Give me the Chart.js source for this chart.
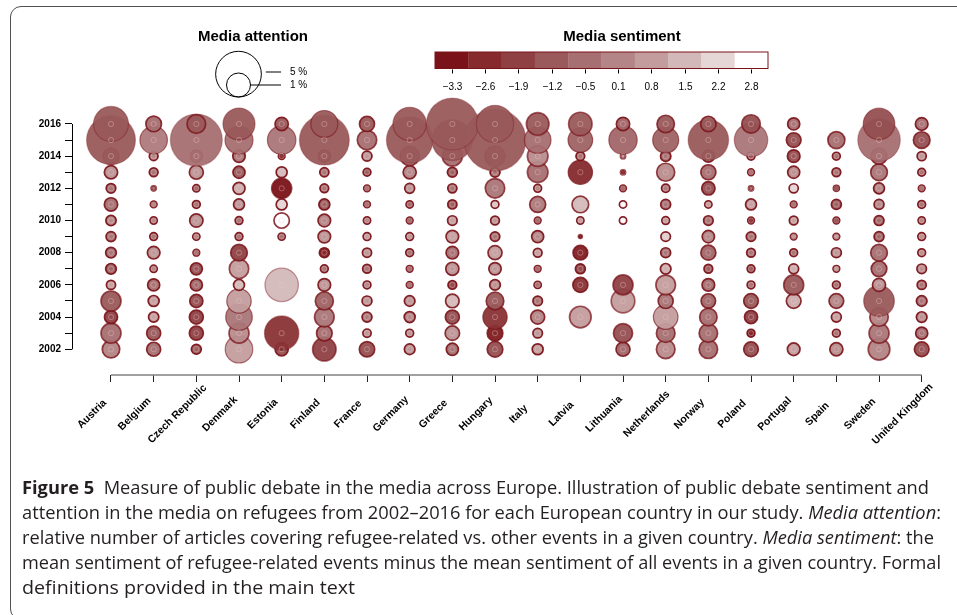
<!DOCTYPE html>
<html>
<head>
<meta charset="utf-8">
<script src="https://cdn.jsdelivr.net/npm/chart.js@4.4.1/dist/chart.umd.min.js"></script>
<style>
  html, body { margin: 0; padding: 0; background: #fff; }
  body { width: 957px; height: 615px; position: relative; overflow: hidden; }
  #frame { position: absolute; left: 10px; top: 6px; width: 990px; height: 614px; border: 1.4px solid #505050; border-radius: 11px; box-sizing: border-box; }
  #chart { position: absolute; left: 0; top: 0; }
  #caption { position: absolute; left: 22px; top: 474px; font-family: "Open Sans", "Noto Sans", sans-serif; font-size: 18.5px; line-height: 25px; color: #231f20; }
  #caption .ln { display: block; white-space: nowrap; width: max-content; transform-origin: 0 50%; }
</style>
</head>
<body>
<div id="frame"></div>
<canvas id="chart" width="957" height="615"></canvas>
<div id="caption">
  <span class="ln" data-w="907"><b>Figure 5</b>&nbsp; Measure of public debate in the media across Europe. Illustration of public debate sentiment and</span>
  <span class="ln" data-w="919">attention in the media on refugees from 2002–2016 for each European country in our study. <i>Media attention</i>:</span>
  <span class="ln" data-w="912">relative number of articles covering refugee-related vs. other events in a given country. <i>Media sentiment</i>: the</span>
  <span class="ln" data-w="919">mean sentiment of refugee-related events minus the mean sentiment of all events in a given country. Formal</span>
  <span class="ln" data-w="333">definitions provided in the main text</span>
</div>
<script>
const countries = ["Austria", "Belgium", "Czech Republic", "Denmark", "Estonia", "Finland", "France",
  "Germany", "Greece", "Hungary", "Italy", "Latvia", "Lithuania", "Netherlands", "Norway", "Poland",
  "Portugal", "Spain", "Sweden", "United Kingdom"];
const years = [2002, 2003, 2004, 2005, 2006, 2007, 2008, 2009, 2010, 2011, 2012, 2013, 2014, 2015, 2016];
const yearLabels = [2002, 2004, 2006, 2008, 2010, 2012, 2014, 2016];
const sentimentTicks = [-3.3, -2.6, -1.9, -1.2, -0.5, 0.1, 0.8, 1.5, 2.2, 2.8];
const attentionKey = [5, 1];

// media attention in %, one row per country, 2002..2016
const attention = [
  [0.45, 0.63, 0.22, 0.63, 0.09, 0.13, 0.13, 0.11, 0.12, 0.23, 0.10, 0.23, 0.36, 5.96, 2.57],
  [0.26, 0.26, 0.12, 0.14, 0.18, 0.05, 0.20, 0.06, 0.05, 0.04, 0.02, 0.08, 0.08, 1.41, 0.34],
  [0.11, 0.26, 0.26, 0.22, 0.18, 0.18, 0.04, 0.05, 0.23, 0.06, 0.05, 0.26, 0.18, 6.91, 0.53],
  [1.41, 0.63, 1.29, 1.04, 0.14, 0.59, 0.40, 0.06, 0.06, 0.14, 0.18, 0.18, 0.19, 1.47, 2.05],
  [0.22, 2.46, null, null, 2.29, null, null, 0.05, 0.33, 0.14, 0.63, 0.14, 0.04, 1.54, 0.23],
  [0.94, 0.34, 0.60, 0.49, 0.20, 0.06, 0.11, 0.20, 0.20, 0.14, 0.08, 0.09, 0.18, 6.26, 1.34],
  [0.33, 0.07, 0.11, 0.11, 0.06, 0.08, 0.09, 0.06, 0.05, 0.04, 0.04, 0.06, 0.11, 0.59, 0.31],
  [0.13, 0.06, 0.14, 0.13, 0.04, 0.04, 0.06, 0.06, 0.04, 0.05, 0.11, 0.22, 0.56, 5.25, 2.29],
  [0.18, 0.28, 0.26, 0.24, 0.08, 0.22, 0.20, 0.20, 0.10, 0.09, 0.09, 0.11, 0.63, 3.81, 6.91],
  [0.34, 0.34, 1.04, 0.46, 0.13, 0.19, 0.26, 0.10, 0.08, 0.06, 0.59, 0.11, 0.63, 10.7, 3.03],
  [0.14, 0.10, 0.26, 0.10, 0.05, 0.04, 0.08, 0.18, 0.04, 0.36, 0.06, 0.68, 0.68, 1.29, 0.86],
  [null, null, 0.77, null, 0.31, 0.11, 0.29, 0.01, 0.05, 0.40, null, 1.04, 0.08, 1.06, 0.94],
  [0.26, 0.56, null, 0.96, 0.63, null, null, null, 0.05, 0.05, 0.04, 0.02, 0.02, 1.52, 0.23],
  [0.53, 0.53, 1.06, 0.31, 0.60, 0.13, 0.11, 0.10, 0.06, 0.11, 0.07, 0.49, 0.12, 1.22, 0.45],
  [0.52, 0.52, 0.45, 0.28, 0.20, 0.08, 0.31, 0.19, 0.10, 0.05, 0.23, 0.31, 0.18, 3.72, 0.33],
  [0.29, 0.06, 0.22, 0.29, 0.06, 0.06, 0.08, 0.10, 0.04, 0.14, 0.02, 0.04, 0.06, 2.29, 0.52],
  [0.20, null, null, 0.29, 0.63, 0.11, 0.06, 0.04, 0.08, 0.04, 0.09, 0.18, 0.20, 0.29, 0.18],
  [0.22, 0.06, 0.11, 0.29, 0.06, 0.04, 0.11, 0.04, 0.04, 0.11, 0.03, 0.08, 0.06, 0.42, null],
  [0.77, 0.63, 0.52, 1.84, 0.22, 0.34, 0.40, 0.11, 0.11, 0.11, 0.14, 0.40, 0.36, 4.20, 1.99],
  [0.29, 0.18, 0.13, 0.13, 0.09, 0.10, 0.06, 0.06, 0.05, 0.06, 0.04, 0.06, 0.09, 0.40, 0.20]
];

// media sentiment, same layout
const sentiment = [
  [0.1, -0.5, -1.9, -1.2, 0.8, -1.0, -0.5, -0.5, 0.1, -0.5, -0.5, 0.5, -0.5, -1.2, -1.2],
  [-0.5, -1.2, 0.8, 0.8, -0.5, 0.1, 0.5, -0.5, 0.1, 0.1, -0.5, -0.5, 0.1, -0.2, -0.5],
  [-1.2, -1.9, -1.9, -1.5, -0.8, -1.5, -0.5, 0.1, 0.5, -0.5, -0.8, 0.5, -0.5, -0.5, -1.2],
  [0.8, 0.3, -0.3, 0.8, 1.5, 0.8, -1.9, -0.5, -0.5, 0.5, 1.2, -1.2, -0.3, -0.5, -1.2],
  [-1.5, -2.3, null, null, 1.5, null, null, -0.5, 2.8, 2.2, -3.3, 1.5, -2.6, -0.3, -1.2],
  [-1.9, -0.5, -0.3, -0.9, 0.5, -0.5, -3.0, 0.5, 0.1, -1.2, -0.5, -0.5, -0.5, -1.2, -1.2],
  [-1.5, 0.5, -0.3, 0.5, 0.1, -0.5, 0.5, 0.8, 0.1, -0.5, -0.5, -1.2, 0.5, -0.5, -1.2],
  [0.5, 0.5, 0.1, 0.5, -0.5, -0.5, -0.5, 0.5, -0.8, -0.8, 0.5, 0.1, -0.5, -1.2, -1.2],
  [-0.5, 0.5, -1.5, 1.5, -1.9, 0.5, -0.5, 0.8, 0.8, -1.2, -0.5, -1.2, -0.5, -1.2, -1.2],
  [-1.5, -3.0, -2.3, -1.2, 0.3, 0.5, 0.8, -0.5, 0.5, 1.8, -0.3, -0.5, -0.8, -1.2, -1.2],
  [0.8, 0.5, 0.1, -0.5, -0.5, -0.8, 0.8, 0.1, -0.8, -0.2, 0.1, -0.5, 0.3, -0.5, -1.2],
  [null, null, 0.8, null, -2.3, -1.9, -2.9, -2.6, 0.8, 1.5, null, -2.6, -0.5, -0.9, -1.2],
  [-0.8, -1.5, null, 0.8, -1.9, null, null, null, 2.8, 2.8, -0.8, -2.6, 0.8, -0.8, -0.8],
  [0.3, -0.5, 0.8, -0.3, 0.8, 1.2, -0.5, 2.0, 0.8, -0.5, -0.3, 0.3, -0.5, -0.9, -1.2],
  [-0.5, -0.5, -0.5, -0.8, -0.5, -1.2, -0.8, 0.1, -0.5, 0.8, -1.5, -0.5, -0.5, -1.2, -1.2],
  [-1.5, -3.0, -1.9, -1.2, -0.5, -1.2, -0.5, -0.5, -2.3, 0.8, -0.5, -0.5, -0.5, -0.3, -1.5],
  [0.8, null, null, 1.2, -1.2, 1.2, -0.5, 0.5, 0.8, -0.5, 2.2, 0.3, -1.5, -1.5, -0.5],
  [0.3, -0.5, 0.8, 0.1, -0.5, 0.8, 0.5, 0.8, -1.5, -1.2, -1.5, -0.5, -0.5, -0.5, null],
  [0.1, -0.3, 0.1, -1.2, 0.5, -0.5, -0.5, -0.9, -0.9, 0.1, 0.1, -0.3, -0.3, -0.5, -1.5],
  [-1.5, -0.5, 0.3, -0.5, -0.5, 0.3, 0.3, 0.3, 0.1, -0.5, -0.5, -0.5, 0.5, -1.5, -0.5]
];

const palette = ["#7a1319", "#862a2d", "#8f4043", "#9a5a5b", "#a66f71",
  "#b38586", "#c39d9e", "#d3b8b9", "#e6d7d7", "#ffffff"];
const font = "'Liberation Sans', Arial, Helvetica, sans-serif";

function radius(v) {
  return 12 * Math.pow(v, 0.4);
}

function rgb(hex) {
  return [1, 3, 5].map(i => parseInt(hex.substr(i, 2), 16));
}

function sentColor(s, alpha) {
  const t = sentimentTicks;
  let k = 0;
  while (k < t.length - 2 && s > t[k + 1]) k++;
  let f = (s - t[k]) / (t[k + 1] - t[k]);
  f = Math.max(0, Math.min(1, f));
  const a = rgb(palette[k]), b = rgb(palette[k + 1]);
  const c = a.map((v, i) => Math.round(v + (b[i] - v) * f));
  return "rgba(" + c.join(",") + "," + alpha + ")";
}

const points = [];
years.forEach((yr, j) => {
  countries.forEach((c, i) => {
    const a = attention[i][j];
    if (a == null) return;
    points.push({ x: i, y: yr, r: radius(a), s: sentiment[i][j] });
  });
});

const decorations = {
  id: "decorations",
  afterDraw(chart) {
    const { ctx, chartArea, scales: { x, y } } = chart;
    ctx.save();

    // axis lines
    ctx.strokeStyle = "#808080";
    ctx.lineWidth = 1.6;
    ctx.beginPath();
    ctx.moveTo(x.getPixelForValue(0), chartArea.bottom);
    ctx.lineTo(x.getPixelForValue(countries.length - 1), chartArea.bottom);
    ctx.stroke();

    ctx.strokeStyle = "#000";
    ctx.lineWidth = 1;
    ctx.beginPath();
    ctx.moveTo(chartArea.left + 0.5, y.getPixelForValue(years[0]));
    ctx.lineTo(chartArea.left + 0.5, y.getPixelForValue(years[years.length - 1]));
    ctx.stroke();

    // country labels
    ctx.fillStyle = "#000";
    ctx.font = "bold 10.5px " + font;
    ctx.textAlign = "center";
    ctx.textBaseline = "middle";
    countries.forEach((c, i) => {
      ctx.save();
      ctx.translate(x.getPixelForValue(i) - 19, chartArea.bottom + 39);
      ctx.rotate(-Math.PI / 4);
      ctx.fillText(c, 0, 0);
      ctx.restore();
    });

    // legend titles
    ctx.font = "bold 15px " + font;
    ctx.fillText("Media attention", 253, 37);
    ctx.fillText("Media sentiment", 622, 37);

    // attention key
    const keyX = 238.5, keyBottom = 97;
    ctx.strokeStyle = "#000";
    ctx.lineWidth = 1;
    attentionKey.forEach(v => {
      const r = radius(v);
      ctx.beginPath();
      ctx.arc(keyX, keyBottom - r, r, 0, Math.PI * 2);
      ctx.stroke();
    });
    const keyRows = [72, 85];
    ctx.font = "10px " + font;
    ctx.textAlign = "left";
    attentionKey.forEach((v, k) => {
      ctx.beginPath();
      ctx.moveTo(keyX + radius(v) + (k === 0 ? 4.5 : 0), keyRows[k]);
      ctx.lineTo(281, keyRows[k]);
      ctx.stroke();
      ctx.fillText(v + " %", 290, keyRows[k]);
    });

    // sentiment colour bar
    const barX = 435, barY = 52, cellW = 33.3, barH = 16.5;
    palette.forEach((col, k) => {
      ctx.fillStyle = col;
      ctx.fillRect(barX + k * cellW, barY, cellW + 0.3, barH);
    });
    ctx.strokeStyle = "#7a1319";
    ctx.strokeRect(barX, barY, cellW * palette.length, barH);
    ctx.strokeStyle = "#000";
    ctx.fillStyle = "#000";
    ctx.textAlign = "center";
    sentimentTicks.forEach((t, k) => {
      const tx = Math.round(barX + (k + 0.5) * cellW) + 0.5;
      ctx.beginPath();
      ctx.moveTo(tx, 69.5);
      ctx.lineTo(tx, 73.5);
      ctx.stroke();
      const lbl = t < 0 ? "\u2212" + Math.abs(t).toFixed(1) : t.toFixed(1);
      ctx.fillText(lbl, tx, 87.5);
    });
    ctx.restore();
  }
};

new Chart(document.getElementById("chart"), {
  type: "bubble",
  data: {
    datasets: [
      {
        type: "scatter",
        data: points,
        order: 0,
        clip: false,
        pointRadius: 2.6,
        pointBorderWidth: 1,
        pointBorderColor: "rgba(235,200,200,0.38)",
        pointBackgroundColor: "rgba(0,0,0,0)"
      },
      {
        data: points,
        order: 1,
        clip: false,
        backgroundColor: (c) => sentColor(c.raw.s, 0.95),
        borderColor: (c) => "rgba(122,19,25," + Math.max(0.3, Math.min(0.95, 1.2 - c.raw.r / 22)).toFixed(2) + ")",
        borderWidth: (c) => c.raw.r < 12 ? 1.7 : 1.2
      }
    ]
  },
  options: {
    responsive: false,
    animation: false,
    events: [],
    layout: { padding: { left: 0, top: 100, right: 35.3, bottom: 200 } },
    plugins: { legend: { display: false }, tooltip: { enabled: false } },
    scales: {
      x: {
        type: "linear",
        min: -0.914,
        max: 19,
        afterBuildTicks: (s) => { s.ticks = countries.map((c, i) => ({ value: i })); },
        afterFit: (s) => { s.height = 40; },
        ticks: { display: false },
        grid: { drawOnChartArea: false, drawTicks: true, tickLength: 7, color: "#222", lineWidth: 1 },
        border: { display: false }
      },
      y: {
        type: "linear",
        min: 2000.4,
        max: 2017.49,
        afterBuildTicks: (s) => { s.ticks = years.map(v => ({ value: v })); },
        afterFit: (s) => { s.width = 72; },
        ticks: {
          autoSkip: false,
          padding: 4,
          color: "#000",
          font: { family: font, size: 10, weight: "bold" },
          callback: (v) => yearLabels.includes(v) ? String(v) : ""
        },
        grid: { drawOnChartArea: false, drawTicks: true, tickLength: 7, color: "#000", lineWidth: 1 },
        border: { display: false }
      }
    }
  },
  plugins: [decorations]
});

document.querySelectorAll("#caption .ln").forEach(el => {
  const w = el.getBoundingClientRect().width;
  el.style.transform = "scaleX(" + (Number(el.dataset.w) / w).toFixed(4) + ")";
});
</script>
</body>
</html>
